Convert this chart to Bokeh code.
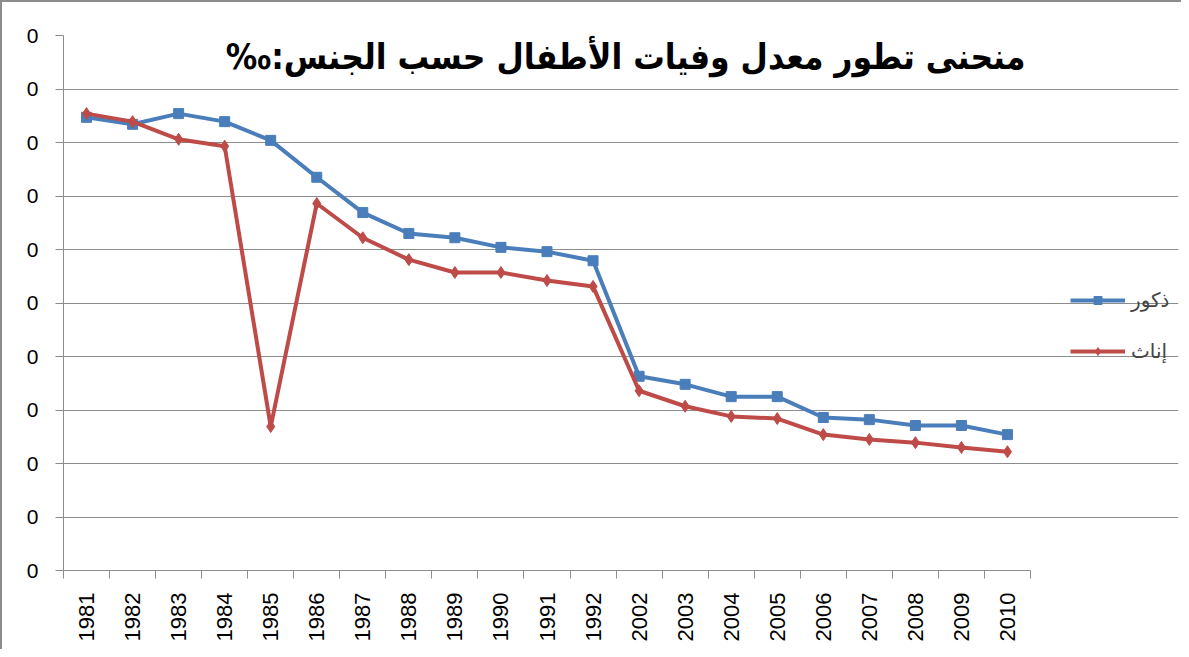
from bokeh.plotting import figure
from bokeh.models import (Range1d, FixedTicker, Legend, LegendItem, Label)
from bokeh.embed import file_html
from bokeh.resources import INLINE

years = ["1981", "1982", "1983", "1984", "1985", "1986", "1987", "1988", "1989",
         "1990", "1991", "1992", "2002", "2003", "2004", "2005", "2006", "2007",
         "2008", "2009", "2010"]
males = [8.47, 8.34, 8.54, 8.39, 8.04, 7.35, 6.69, 6.30, 6.22, 6.04, 5.96, 5.79,
         3.63, 3.48, 3.25, 3.25, 2.86, 2.82, 2.71, 2.71, 2.54]
females = [8.54, 8.39, 8.06, 7.93, 2.69, 6.86, 6.22, 5.81, 5.57, 5.57, 5.42, 5.31,
           3.36, 3.07, 2.88, 2.84, 2.54, 2.45, 2.39, 2.30, 2.22]
y_ticks = [0, 1, 2, 3, 4, 5, 6, 7, 8, 9, 10]
y_tick_labels = ["0"] * 11
title_text = "منحنى تطور معدل وفيات الأطفال حسب الجنس:‰"
male_label = "ذكور"
female_label = "إناث"

BLUE = "#4A7EBB"
RED = "#BE4B48"
GRID = "#8C8C8C"

xs = list(range(len(years)))
n = len(years)

W, H = 1181, 649
BL, BR, BT, BB = 61, 5, 33, 81
plot_px = 967  # pixel width of the data area
frame_px = W - BL - BR
x_end = -0.5 + n * frame_px / plot_px

p = figure(width=W, height=H, output_backend="svg", toolbar_location=None,
           x_range=Range1d(-0.5, x_end), y_range=Range1d(0, 10),
           min_border_left=BL, min_border_right=BR, min_border_top=BT,
           min_border_bottom=BB)
p.styles = {"border-left": "2px solid #8c8c8c", "border-top": "2px solid #8c8c8c"}
p.outline_line_color = None
p.background_fill_color = "white"
p.border_fill_color = "white"

# x axis
p.xaxis.bounds = (-0.5, n - 0.5)
p.xaxis.ticker = FixedTicker(ticks=xs, minor_ticks=[i - 0.5 for i in range(n + 1)])
p.xaxis.major_label_overrides = {i: y for i, y in enumerate(years)}
p.xaxis.major_label_orientation = 1.5708
p.xaxis.major_tick_out = 0
p.xaxis.major_tick_in = 0
p.xaxis.minor_tick_out = 8
p.xaxis.minor_tick_in = 0
p.xaxis.minor_tick_line_color = GRID
p.xaxis.axis_line_color = GRID
p.xaxis.major_label_text_font = "Liberation Sans"
p.xaxis.major_label_text_font_size = "22px"
p.xaxis.major_label_text_color = "black"
p.xaxis.major_label_standoff = 14
p.xgrid.grid_line_color = None

# y axis
p.yaxis.ticker = FixedTicker(ticks=y_ticks)
p.yaxis.major_label_overrides = {t: l for t, l in zip(y_ticks, y_tick_labels)}
p.yaxis.major_tick_out = 8
p.yaxis.major_tick_in = 0
p.yaxis.minor_tick_line_color = None
p.yaxis.major_tick_line_color = GRID
p.yaxis.axis_line_color = GRID
p.yaxis.major_label_text_font = "Liberation Sans"
p.yaxis.major_label_text_font_size = "21px"
p.yaxis.major_label_text_color = "black"
p.yaxis.major_label_standoff = 17
p.ygrid.grid_line_color = GRID
p.ygrid.grid_line_width = 1
p.ygrid.bounds = (-0.5, n - 0.5)

lm = p.line(xs, males, line_color=BLUE, line_width=4)
mm = p.scatter(xs, males, marker="square", size=10, fill_color=BLUE, line_color=BLUE)
lf = p.line(xs, females, line_color=RED, line_width=4)
mf = p.scatter(xs, females, marker="diamond", size=12, fill_color=RED, line_color=RED)

legend = Legend(items=[LegendItem(label=male_label, renderers=[lm, mm]),
                       LegendItem(label=female_label, renderers=[lf, mf])],
                location=(1007, 207), orientation="vertical",
                background_fill_alpha=0, border_line_color=None,
                label_text_font="DejaVu Sans", label_text_font_size="20px",
                glyph_width=55, glyph_height=20, spacing=27, padding=0,
                label_standoff=6, margin=0)
p.add_layout(legend, "center")

title = Label(x=20.39, y=9.59, text=title_text + "\u200f", text_align="right",
              text_baseline="middle", text_font="DejaVu Sans Condensed",
              text_font_style="bold", text_font_size="35px", text_color="black")
p.add_layout(title)

open("out.html", "w").write(file_html(p, INLINE))
